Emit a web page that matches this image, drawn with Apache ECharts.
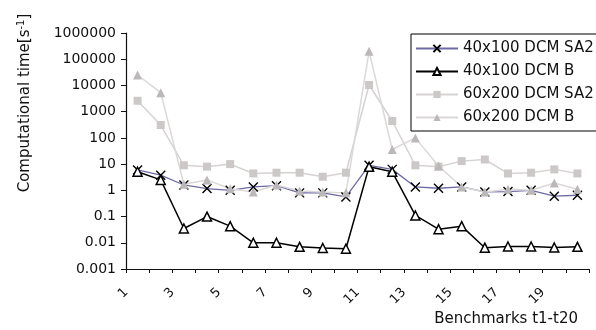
<!DOCTYPE html>
<html>
<head>
<meta charset="utf-8">
<script src="https://cdn.jsdelivr.net/npm/echarts@6/dist/echarts.min.js"></script>
<style>
  html, body { margin: 0; padding: 0; background: #fff; }
  #chart { width: 596px; height: 330px; }
</style>
</head>
<body>
<div id="chart"></div>
<script>
const categories = ['1', '2', '3', '4', '5', '6', '7', '8', '9', '10', '11', '12', '13', '14', '15', '16', '17', '18', '19', '20']
const yTickLabels = ['0.001', '0.01', '0.1', '1', '10', '100', '1000', '10000', '100000', '1000000']
const seriesNames = ['40x100 DCM SA2', '40x100 DCM B', '60x200 DCM SA2', '60x200 DCM B']

const sa2_40x100 = [6, 3.8, 1.6, 1.17, 1.0, 1.35, 1.5, 0.8, 0.8, 0.56, 9, 6.3, 1.35, 1.2, 1.35, 0.87, 0.9, 1.0, 0.6, 0.65]
const b_40x100 = [5.1, 2.5, 0.035, 0.1, 0.043, 0.01, 0.01, 0.007, 0.0063, 0.0059, 7.9, 5.1, 0.11, 0.033, 0.043, 0.0065, 0.0072, 0.0072, 0.0066, 0.007]
const sa2_60x200 = [2600, 310, 9, 8, 10, 4.4, 4.7, 4.7, 3.3, 4.7, 10400, 440, 9, 8, 13, 15, 4.4, 4.7, 6.3, 4.4]
const b_60x200 = [25000, 5300, 1.7, 2.5, 1.15, 0.87, 1.6, 0.95, 0.87, 0.8, 200000, 36, 100, 8.5, 1.35, 0.87, 1.1, 1.0, 1.9, 1.1]

const font = 'DejaVu Sans'

const chart = echarts.init(document.getElementById('chart'))

const option = {
  animation: false,
  grid: { left: 126, right: 7, top: 33, bottom: 61 },
  legend: {
    orient: 'vertical',
    left: 411,
    top: 34,
    itemWidth: 42,
    itemHeight: 9,
    itemGap: 6,
    padding: [6, 16, 5, 4],
    borderColor: '#000',
    borderWidth: 1,
    backgroundColor: '#fff',
    textStyle: { fontFamily: font, fontSize: 15, lineHeight: 17, color: '#111' },
    data: seriesNames
  },
  xAxis: {
    type: 'category',
    data: categories,
    boundaryGap: true,
    name: 'Benchmarks t1-t20',
    nameLocation: 'end',
    nameGap: -11,
    nameTextStyle: { fontFamily: font, fontSize: 15, color: '#111', align: 'right', verticalAlign: 'top', padding: [43, 0, 0, 0] },
    axisLine: { lineStyle: { color: '#111', width: 1.2 } },
    axisTick: { show: true, interval: 0, length: 4, lineStyle: { color: '#111' } },
    axisLabel: {
      interval: 1,
      rotate: 45,
      margin: 10,
      padding: [0, 16, 0, 0],
      fontFamily: font,
      fontSize: 13,
      color: '#111'
    },
    splitLine: { show: false }
  },
  yAxis: {
    type: 'log',
    logBase: 10,
    min: 0.001,
    max: 1000000,
    name: 'Computational time[s{sup|-1}]',
    nameLocation: 'middle',
    nameRotate: 90,
    nameGap: 92,
    nameTextStyle: {
      fontFamily: font,
      fontSize: 15,
      color: '#111',
      padding: [0, 0, 0, 96],
      rich: {
        sup: { fontFamily: font, fontSize: 10, color: '#111', padding: [0, 0, 8, 0] }
      }
    },
    axisLine: { show: true, lineStyle: { color: '#111', width: 1.2 } },
    axisTick: { show: true, length: 5, lineStyle: { color: '#111' } },
    minorTick: { show: false },
    axisLabel: {
      margin: 10,
      fontFamily: font,
      fontSize: 14,
      color: '#111',
      formatter: v => yTickLabels[Math.round(Math.log10(v)) + 3]
    },
    splitLine: { show: false }
  },
  series: [
    {
      name: seriesNames[0],
      type: 'line',
      data: sa2_40x100,
      symbol: 'path://M0,0 L10,10 M10,0 L0,10',
      symbolSize: 9,
      lineStyle: { color: '#6d6aa6', width: 1.3 },
      itemStyle: { color: '#000', borderColor: '#000', borderWidth: 1.4 }
    },
    {
      name: seriesNames[1],
      type: 'line',
      data: b_40x100,
      symbol: 'triangle',
      symbolSize: 9,
      lineStyle: { color: '#000', width: 1.5 },
      itemStyle: { color: '#fff', borderColor: '#000', borderWidth: 1.5 }
    },
    {
      name: seriesNames[2],
      type: 'line',
      data: sa2_60x200,
      symbol: 'rect',
      symbolSize: 8,
      lineStyle: { color: '#d6d2d2', width: 1.5 },
      itemStyle: { color: '#ccc8c8', borderWidth: 0 }
    },
    {
      name: seriesNames[3],
      type: 'line',
      data: b_60x200,
      symbol: 'triangle',
      symbolSize: 9,
      lineStyle: { color: '#dcd8d8', width: 1.5 },
      itemStyle: { color: '#bcb8b8', borderWidth: 0 }
    }
  ]
}

chart.setOption(option)
</script>
</body>
</html>
